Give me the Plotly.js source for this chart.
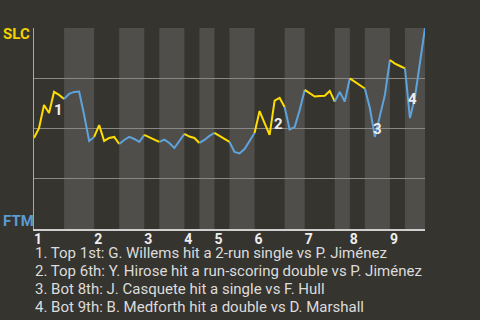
<!DOCTYPE html>
<html><head><meta charset="utf-8">
<script src="https://cdn.plot.ly/plotly-3.0.1.min.js"></script>
<style>html,body{margin:0;padding:0;background:#36342f;}#chart{width:480px;height:320px;}</style>
</head><body><div id="chart"></div>
<script>
// Win probability for SLC after each plate appearance (index 0 = first pitch)
const winProb = [
  0.453, 0.502, 0.617, 0.577, 0.682, 0.667, 0.647, 0.672, 0.682, 0.684,
  0.567, 0.438, 0.458, 0.517, 0.438, 0.453, 0.458, 0.423, 0.443, 0.458,
  0.448, 0.433, 0.468, 0.458, 0.445, 0.433, 0.445, 0.428, 0.403, 0.438,
  0.473, 0.460, 0.453, 0.428, 0.443, 0.463, 0.478, 0.463, 0.445, 0.433,
  0.383, 0.376, 0.398, 0.438, 0.478, 0.587, 0.527, 0.468, 0.639, 0.652,
  0.607, 0.495, 0.507, 0.592, 0.692, 0.677, 0.659, 0.662, 0.663, 0.687,
  0.634, 0.682, 0.634, 0.749, 0.731, 0.714, 0.699, 0.602, 0.458, 0.557,
  0.667, 0.841, 0.823, 0.811, 0.799, 0.552, 0.657, 0.841, 1.000
];
// plate-appearance index where each half inning starts (top, bottom, top, ...)
const halfInningStarts = [0, 6, 12, 17, 22, 25, 30, 33, 36, 39, 44, 50, 54, 60, 63, 66, 71, 74];
const gameEnd = 78;
const inningStarts = [0, 12, 22, 30, 36, 44, 54, 63, 71];
const inningLabels = ['1', '2', '3', '4', '5', '6', '7', '8', '9'];
const teams = ['SLC', 'FTM'];
const teamColors = ['#ffdd00', '#5fa3dc'];
const eventX = [4.8, 48.7, 68.6, 75.6];
const eventY = [0.592, 0.522, 0.498, 0.647];
const eventLabels = ['1', '2', '3', '4'];
const eventTexts = [
  '1. Top 1st: G. Willems hit a 2-run single vs P. Jiménez',
  '2. Top 6th: Y. Hirose hit a run-scoring double vs P. Jiménez',
  '3. Bot 8th: J. Casquete hit a single vs F. Hull',
  '4. Bot 9th: B. Medforth hit a double vs D. Marshall'
];

const BG = '#36342f';
const BAND = '#504e4b';

const traces = [];
const shapes = [];
for (let i = 0; i < halfInningStarts.length; i++) {
  const s = halfInningStarts[i];
  const e = i + 1 < halfInningStarts.length ? halfInningStarts[i + 1] : gameEnd;
  const xs = [], ys = [];
  for (let k = s; k <= e; k++) { xs.push(k); ys.push(winProb[k]); }
  traces.push({
    x: xs, y: ys, type: 'scatter', mode: 'lines', hoverinfo: 'skip',
    line: {color: teamColors[i % 2], width: 2},
    showlegend: false
  });
  if (i % 2 === 1) {
    shapes.push({type: 'rect', xref: 'x', yref: 'paper', x0: s, x1: e, y0: 0, y1: 1,
      fillcolor: BAND, line: {width: 0}, layer: 'below'});
  }
}

const annotations = [];
for (let i = 0; i < eventLabels.length; i++) {
  annotations.push({x: eventX[i], y: eventY[i], xref: 'x', yref: 'y', text: eventLabels[i],
    showarrow: false, font: {family: 'Roboto', size: 15, color: '#eeeeee', weight: 'bold'}});
}
annotations.push({xref: 'paper', yref: 'paper', x: -0.084, y: 0.968, xanchor: 'left', yanchor: 'middle',
  text: teams[0], showarrow: false, font: {family: 'Roboto', size: 15, color: '#f2d300', weight: 'bold'}});
annotations.push({xref: 'paper', yref: 'paper', x: -0.084, y: 0.040, xanchor: 'left', yanchor: 'middle',
  text: teams[1], showarrow: false, font: {family: 'Roboto', size: 15, color: '#5b9bd5', weight: 'bold'}});
const noteRowY = [-0.1194, -0.2090, -0.2985, -0.3881];
for (let i = 0; i < eventTexts.length; i++) {
  annotations.push({xref: 'paper', yref: 'paper', x: -0.002, y: noteRowY[i], xanchor: 'left', yanchor: 'middle',
    align: 'left', text: eventTexts[i], showarrow: false,
    font: {family: 'Roboto', size: 15, color: '#dcdcdc'}});
}

const layout = {
  width: 480, height: 320,
  margin: {l: 34, r: 55, t: 28, b: 91, pad: 0},
  paper_bgcolor: BG, plot_bgcolor: BG,
  showlegend: false,
  xaxis: {range: [0, gameEnd], tickvals: inningStarts, ticktext: inningLabels,
    showgrid: false, zeroline: false, showline: true, linecolor: '#cfcfcf', linewidth: 2,
    ticks: '', ticklabelshift: 4, ticklabelstandoff: -4,
    tickfont: {family: 'Roboto', size: 14, color: '#eeeeee', weight: 'bold'}},
  yaxis: {range: [0, 1], tickvals: [0, 0.25, 0.5, 0.75, 1], showticklabels: false,
    showgrid: true, gridcolor: '#8a8885', gridwidth: 1, zeroline: false,
    showline: true, linecolor: '#a8a8a8', linewidth: 1, ticks: ''},
  shapes: shapes,
  annotations: annotations
};
Plotly.newPlot('chart', traces, layout, {staticPlot: true, displayModeBar: false});
</script>
</body></html>
